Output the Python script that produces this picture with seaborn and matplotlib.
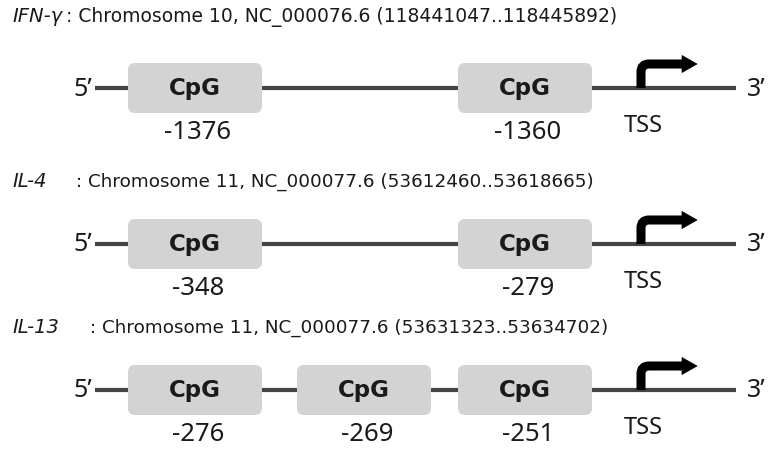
import seaborn as sns
import matplotlib.pyplot as plt
from matplotlib.patches import FancyBboxPatch, PathPatch, Polygon
from matplotlib.path import Path

sns.set_theme(style='white')
plt.rcParams['font.family'] = ['Noto Sans', 'DejaVu Sans']

# gene info
genes = ['IFN-γ', 'IL-4', 'IL-13']
chromosomes = ['Chromosome 10', 'Chromosome 11', 'Chromosome 11']
accessions = ['NC_000076.6', 'NC_000077.6', 'NC_000077.6']
ranges = ['(118441047..118445892)', '(53612460..53618665)', '(53631323..53634702)']
cpg_sites = [[-1376, -1360], [-348, -279], [-276, -269, -251]]

# layout (pixels, y down)
line_y = [89, 245, 391]
title_y = [17, 182, 328]
title_fs = [13.5, 13.2, 13.2]
colon_x = [66, 76, 90]
box_left = {2: [128, 458], 3: [128, 297, 458]}
box_w, box_h = 134, 50
strand_x0, strand_x1 = 95, 736
tss_x = 641

line_col = '#444444'
box_col = '#d3d3d3'
txt_col = '#1a1a1a'

fig = plt.figure(figsize=(7.71, 4.52), dpi=100)
ax = fig.add_axes([0, 0, 1, 1])
ax.set_xlim(0, 771)
ax.set_ylim(452, 0)
ax.axis('off')

for i, gene in enumerate(genes):
    ly = line_y[i]
    # title line
    ax.text(12, title_y[i], gene, style='italic', fontsize=14, color=txt_col,
            family='DejaVu Sans', ha='left', va='center')
    ax.text(colon_x[i], title_y[i],
            ': ' + chromosomes[i] + ', ' + accessions[i] + ' ' + ranges[i],
            fontsize=title_fs[i], color=txt_col, family='DejaVu Sans',
            ha='left', va='center')

    # strand
    ax.plot([strand_x0, strand_x1], [ly, ly], color=line_col, lw=3, zorder=1,
            solid_capstyle='butt')
    ax.text(92, ly, '5’', fontsize=18, color=txt_col, ha='right', va='center')
    ax.text(747, ly, '3’', fontsize=18, color=txt_col, ha='left', va='center')

    # CpG islands
    sites = cpg_sites[i]
    for x0, site in zip(box_left[len(sites)], sites):
        box = FancyBboxPatch((x0, ly - box_h / 2), box_w, box_h,
                             boxstyle='round,pad=0,rounding_size=7',
                             fc=box_col, ec='none', zorder=2)
        ax.add_patch(box)
        ax.text(x0 + box_w / 2, ly, 'CpG', fontsize=16.5, fontweight='bold',
                family='DejaVu Sans', color=txt_col, ha='center', va='center',
                zorder=3)
        ax.text(x0 + box_w / 2 + 3, ly + 44, str(site),
                fontsize=18.5, color=txt_col, ha='center', va='center')

    # TSS bent arrow
    top = ly - 24
    verts = [(tss_x, ly), (tss_x, top + 8), (tss_x, top), (tss_x + 8, top), (684, top)]
    codes = [Path.MOVETO, Path.LINETO, Path.CURVE3, Path.CURVE3, Path.LINETO]
    ax.add_patch(PathPatch(Path(verts, codes), fc='none', ec='black', lw=6.5,
                           capstyle='butt', joinstyle='miter', zorder=3))
    ax.add_patch(Polygon([(682, top - 8.5), (697, top), (682, top + 8.5)],
                         closed=True, fc='black', ec='black', lw=0.5, zorder=3))
    ax.text(643, ly + 37, 'TSS', fontsize=17, color=txt_col, ha='center', va='center')

fig.savefig('out.png', dpi=100)
